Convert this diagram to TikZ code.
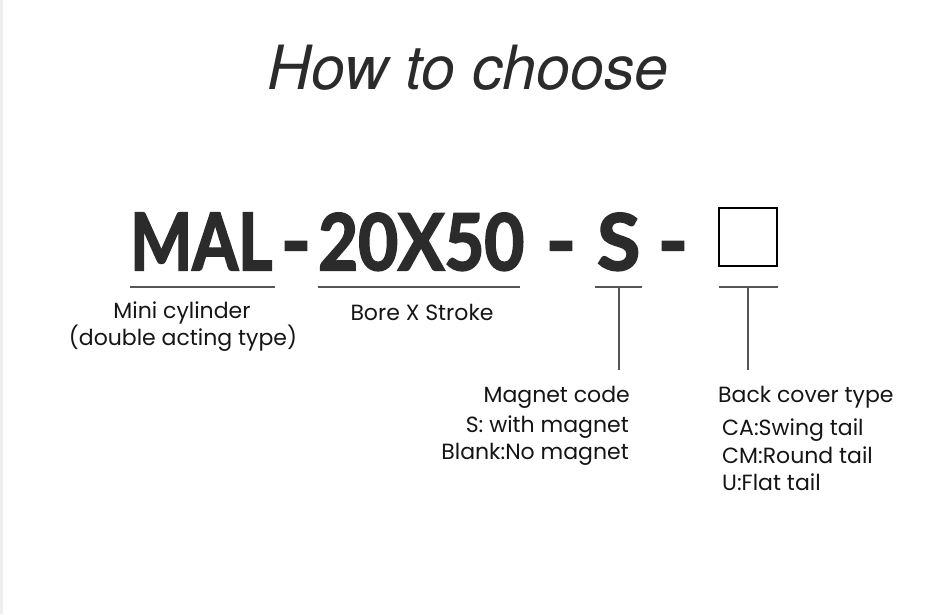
\documentclass[tikz,border=0pt]{standalone}
\usepackage{fontspec}
\setmainfont{Poppins}
\newfontfamily\titlefont{TeX Gyre Heros}
\newfontfamily\codefont{Lato}[FakeBold=2.6]
\usetikzlibrary{positioning}
\definecolor{ink}{HTML}{2B2B2B}
\definecolor{lbl}{HTML}{151515}
\definecolor{rule}{HTML}{555555}
\definecolor{edge}{HTML}{EEEEEE}
\tikzset{
  codetxt/.style={inner sep=0pt, anchor=base west, text=ink, font=\codefont\bfseries},
  dashtxt/.style={inner sep=0pt, anchor=base, text=ink, font=\codefont\bfseries\fontsize{80}{80}\selectfont},
  lbltxt/.style={inner sep=0pt, text=lbl, font=\fontsize{22}{26}\selectfont},
  ruleline/.style={draw=rule, line width=1.3pt},
}
\begin{document}
\begin{tikzpicture}[x=1pt,y=-1pt]
\useasboundingbox (0,0) rectangle (926,614);
\fill[white] (0,0) rectangle (926,614);
\fill[edge] (0,0) rectangle (3,614);
% title
\node[inner sep=0pt, anchor=base, text=ink, font=\titlefont\itshape\fontsize{61}{63}\selectfont] (title) at (468,89) {How to choose};
% code parts
\node[codetxt] (mal) at (130,270) {\resizebox{142pt}{57pt}{MAL}};
\node[dashtxt] (d1) at (296,270) {-};
\node[codetxt] (bs) at (318,270) {\resizebox{206pt}{57pt}{20X50}};
\node[dashtxt] (d2) at (561,270) {-};
\node[codetxt] (s) at (597,270) {\resizebox{43pt}{57pt}{S}};
\node[dashtxt] (d3) at (673,270) {-};
\node[draw=black, line width=2pt, minimum width=58pt, minimum height=58pt, inner sep=0pt] (box) at (748,237) {};
% underline coordinates
\coordinate (u1a) at (130,287); \coordinate (u1b) at (275,287);
\coordinate (u2a) at (318,287); \coordinate (u2b) at (520,287);
\coordinate (u3a) at (595,287); \coordinate (u3b) at (642,287);
\coordinate (u3m) at (619,287); \coordinate (u3e) at (619,370);
\coordinate (u4a) at (719,287); \coordinate (u4b) at (778,287);
\coordinate (u4m) at (748,287); \coordinate (u4e) at (748,370);
\draw[ruleline] (u1a) -- (u1b);
\draw[ruleline] (u2a) -- (u2b);
\draw[ruleline] (u3a) -- (u3b);
\draw[ruleline] (u3m) -- (u3e);
\draw[ruleline] (u4a) -- (u4b);
\draw[ruleline] (u4m) -- (u4e);
% labels
\node[lbltxt, anchor=base] (l1a) at (182,318) {Mini cylinder};
\node[lbltxt, anchor=base] (l1b) at (183,345) {(double acting type)};
\node[lbltxt, anchor=base] (l2) at (422,320) {Bore X Stroke};
\node[lbltxt, anchor=base east] (l3a) at (630,402) {Magnet code};
\node[lbltxt, anchor=base east] (l3b) at (629,432) {S: with magnet};
\node[lbltxt, anchor=base east] (l3c) at (629,459) {Blank:No magnet};
\node[lbltxt, anchor=base west] (l4a) at (718,402) {Back cover type};
\node[lbltxt, anchor=base west] (l4b) at (722,435) {CA:Swing tail};
\node[lbltxt, anchor=base west] (l4c) at (722,463) {CM:Round tail};
\node[lbltxt, anchor=base west] (l4d) at (722,490) {U:Flat tail};
\end{tikzpicture}
\end{document}
